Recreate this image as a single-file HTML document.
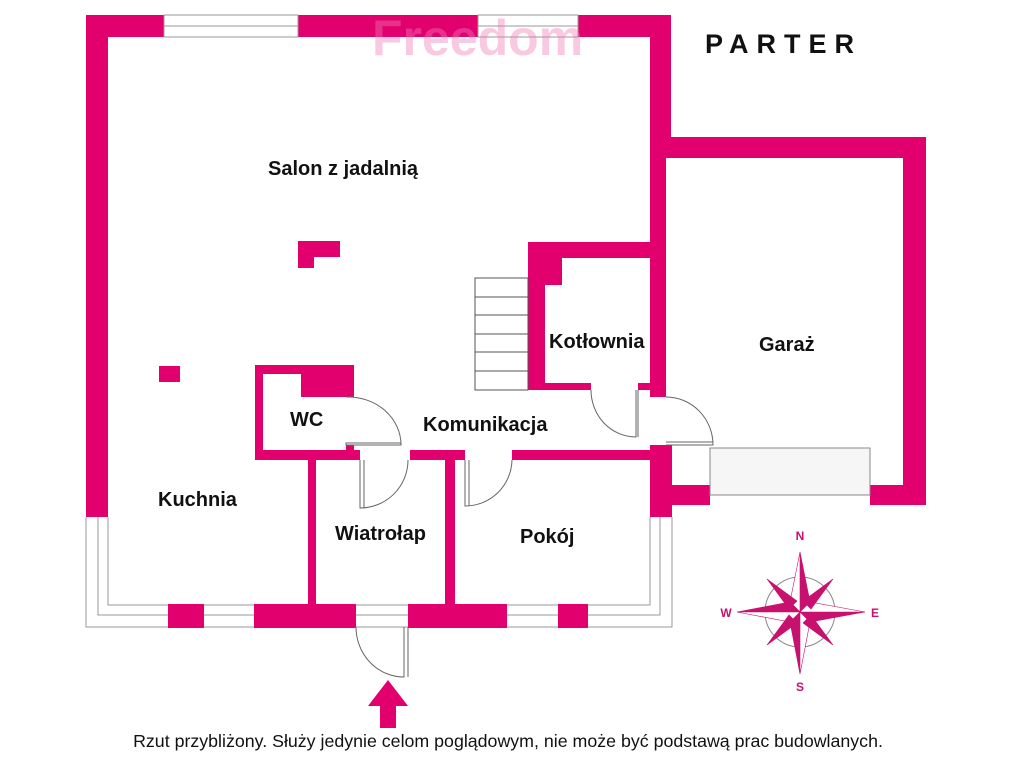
<!DOCTYPE html>
<html><head><meta charset="utf-8"><style>
body{margin:0;background:#fff}
svg{display:block}
text{font-family:"Liberation Sans",sans-serif}
.l{font-weight:bold;font-size:20px;fill:#111}
</style></head><body>
<svg width="1024" height="768" viewBox="0 0 1024 768" xmlns="http://www.w3.org/2000/svg">
<g fill="#e2006e">
<rect x="86" y="15" width="585" height="22"/>
<rect x="86" y="15" width="22" height="502"/>
<rect x="650" y="15" width="21" height="143"/>
<rect x="650" y="137" width="276" height="21"/>
<rect x="903" y="137" width="23" height="368"/>
<rect x="870" y="485" width="56" height="20"/>
<rect x="665" y="485" width="45" height="20"/>
<rect x="650" y="137" width="16" height="260"/>
<rect x="650" y="445" width="22" height="72"/>
<rect x="528" y="242" width="122" height="16"/>
<rect x="528" y="242" width="17" height="148"/>
<rect x="545" y="258" width="17" height="27"/>
<rect x="528" y="383" width="63" height="7"/>
<rect x="638" y="383" width="12" height="7"/>
<rect x="255" y="365" width="99" height="9"/>
<rect x="255" y="365" width="8" height="95"/>
<rect x="301" y="365" width="53" height="32"/>
<rect x="255" y="450" width="105" height="10"/>
<rect x="346" y="445" width="8" height="10"/>
<rect x="410" y="450" width="55" height="10"/>
<rect x="512" y="450" width="138" height="10"/>
<rect x="308" y="460" width="8" height="145"/>
<rect x="445" y="460" width="10" height="145"/>
<path d="M298 241H340V257H314V268H298Z"/>
<rect x="159" y="366" width="21" height="16"/>
<path d="M388 680L408 706H396V728H380V706H368Z"/>
</g>
<g fill="#fff" stroke="#999" stroke-width="1">
<rect x="164" y="15" width="134" height="22"/>
<line x1="164" y1="26" x2="298" y2="26"/>
<rect x="478" y="15" width="100" height="22"/>
<line x1="478" y1="26" x2="578" y2="26"/>
<path d="M86 517V627H672V517 M98 517V615H660V517 M108 517V605H650V517" fill="none"/>
</g>
<g fill="#e2006e"><rect x="168" y="604" width="36" height="24"/><rect x="254" y="604" width="102" height="24"/><rect x="408" y="604" width="99" height="24"/><rect x="558" y="604" width="30" height="24"/></g>
<rect x="710" y="448" width="160" height="47" fill="#f6f6f6" stroke="#888"/>
<g fill="none" stroke="#555" stroke-width="1">
<rect x="475" y="278" width="53" height="112"/>
<line x1="475" y1="297" x2="528" y2="297"/><line x1="475" y1="315" x2="528" y2="315"/><line x1="475" y1="334" x2="528" y2="334"/><line x1="475" y1="352" x2="528" y2="352"/><line x1="475" y1="371" x2="528" y2="371"/>
</g>
<g fill="none" stroke="#666" stroke-width="1">
<path d="M346 397A53 48 0 0 1 401 445H346"/><rect x="346" y="443" width="55" height="2"/>
<path d="M360 460V508A48 48 0 0 0 408 460"/><line x1="364" y1="460" x2="364" y2="508"/>
<path d="M465 460V506A47 47 0 0 0 512 460"/><line x1="469" y1="460" x2="469" y2="506"/>
<path d="M591 390A45 47 0 0 0 636 437V390"/><line x1="638" y1="390" x2="638" y2="437"/>
<path d="M666 397A47 48 0 0 1 713 445H666"/><line x1="666" y1="442" x2="713" y2="442"/>
<path d="M356 627A48 50 0 0 0 404 677V627"/><line x1="408" y1="627" x2="408" y2="677"/>
</g>
<text x="372" y="55" font-size="50" font-family="Liberation Serif,serif" font-weight="bold" fill="#f07ab4" opacity="0.4">Freedom</text>
<text x="705" y="53" font-size="27" font-weight="bold" letter-spacing="8" fill="#111">PARTER</text>
<text class="l" x="268" y="175">Salon z jadalnią</text>
<text class="l" x="549" y="348">Kotłownia</text>
<text class="l" x="759" y="351">Garaż</text>
<text class="l" x="290" y="426">WC</text>
<text class="l" x="423" y="431">Komunikacja</text>
<text class="l" x="158" y="506">Kuchnia</text>
<text class="l" x="335" y="540">Wiatrołap</text>
<text class="l" x="520" y="543">Pokój</text>
<text x="508" y="747" font-size="17.8" text-anchor="middle" fill="#111">Rzut przybliżony. Służy jedynie celom poglądowym, nie może być podstawą prac budowlanych.</text>
<g transform="translate(800,612)">
<circle r="35" fill="none" stroke="#888" stroke-width="1"/>
<g fill="#c8106e" stroke="#c8106e" stroke-width="0.6">
<path d="M0 -60L10 -10L0 0Z"/><path d="M0 -60L-10 -10L0 0Z" fill="#fff"/>
<path d="M65 0L10 10L0 0Z"/><path d="M65 0L10 -10L0 0Z" fill="#fff"/>
<path d="M0 62L-10 10L0 0Z"/><path d="M0 62L10 10L0 0Z" fill="#fff"/>
<path d="M-63 0L-10 -10L0 0Z"/><path d="M-63 0L-10 10L0 0Z" fill="#fff"/>
<path d="M-33 -33L-3 -11L-11 -3Z"/><path d="M33 -33L11 -3L3 -11Z"/>
<path d="M33 33L3 11L11 3Z"/><path d="M-33 33L-11 3L-3 11Z"/>
</g>
<g font-size="12" font-weight="bold" fill="#c8106e" text-anchor="middle">
<text x="0" y="-72">N</text><text x="0" y="79">S</text><text x="-74" y="5">W</text><text x="75" y="5">E</text>
</g>
</g>
</svg>
</body></html>
